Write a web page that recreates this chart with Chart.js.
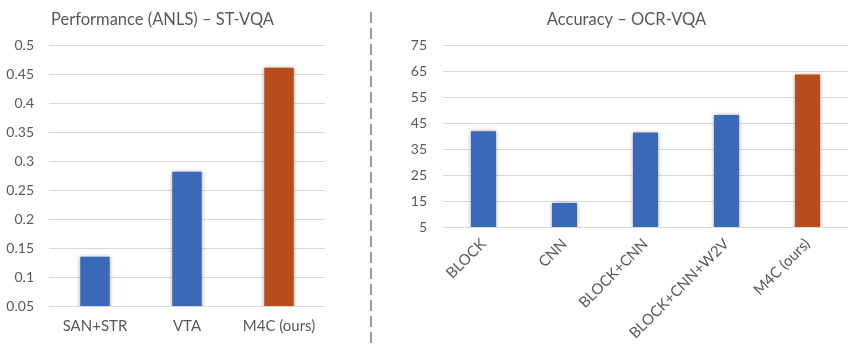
<!DOCTYPE html>
<html>
<head>
<meta charset="utf-8">
<script src="https://cdn.jsdelivr.net/npm/chart.js@4.4.1/dist/chart.umd.min.js"></script>
<style>
    body { margin: 0; background: #ffffff; }
    #wrap { position: relative; width: 860px; height: 344px; overflow: hidden; }
    .panel { position: absolute; top: 0; height: 344px; }
    #left-panel { left: 0; width: 336px; }
    #right-panel { left: 405px; width: 455px; }
    #divider {
        position: absolute; left: 370px; top: 12px; width: 2px; height: 332px;
        background: repeating-linear-gradient(to bottom, #9b9b9b 0 11px, transparent 11px 16px);
    }
</style>
</head>
<body>
<div id="wrap">
    <div class="panel" id="left-panel"><canvas id="stvqaChart"></canvas></div>
    <div id="divider"></div>
    <div class="panel" id="right-panel"><canvas id="ocrvqaChart"></canvas></div>
</div>
<script>
const stvqaLabels = ['SAN+STR', 'VTA', 'M4C (ours)'];
const stvqaValues = [0.135, 0.282, 0.462];
const stvqaTicks = { min: 0.05, max: 0.5, step: 0.05 };

const ocrLabels = ['BLOCK', 'CNN', 'BLOCK+CNN', 'BLOCK+CNN+W2V', 'M4C (ours)'];
const ocrValues = [42.0, 14.3, 41.5, 48.3, 63.9];
const ocrTicks = { min: 5, max: 75, step: 10 };

const BLUE = '#3a69b8';
const ORANGE = '#b94c1b';
const TEXT = '#595959';
const FONT = 'Lato, "Open Sans", sans-serif';

// soft shadow under the bars, like the office chart
const barShadow = {
    id: 'barShadow',
    beforeDatasetsDraw(chart) {
        const ctx = chart.ctx;
        ctx.save();
        ctx.shadowColor = 'rgba(0, 0, 0, 0.35)';
        ctx.shadowBlur = 4;
        ctx.shadowOffsetX = 0;
        ctx.shadowOffsetY = 0;
    },
    afterDatasetsDraw(chart) {
        chart.ctx.restore();
    }
};

function barColors(labels) {
    return labels.map(l => l.startsWith('M4C') ? ORANGE : BLUE);
}

function makeChart(id, labels, values, ticks, opts) {
    const ctx = document.getElementById(id).getContext('2d');
    return new Chart(ctx, {
        type: 'bar',
        data: {
            labels,
            datasets: [{
                data: values,
                backgroundColor: barColors(labels),
                borderWidth: 0,
                categoryPercentage: 1,
                barPercentage: opts.barPct
            }]
        },
        plugins: [barShadow],
        options: {
            responsive: true,
            maintainAspectRatio: false,
            animation: false,
            layout: { padding: { left: 0, right: opts.padRight, top: 0, bottom: 0 } },
            plugins: {
                legend: { display: false },
                tooltip: { enabled: false },
                title: {
                    display: true,
                    text: opts.title,
                    color: TEXT,
                    font: { family: FONT, size: 16.5, weight: 'normal' },
                    padding: { top: 10, bottom: 16 }
                }
            },
            scales: {
                x: {
                    grid: { display: false, drawTicks: false },
                    border: { display: false },
                    ticks: {
                        color: TEXT,
                        font: { family: FONT, size: 15 },
                        padding: opts.xPad,
                        maxRotation: opts.rotation,
                        minRotation: opts.rotation,
                        autoSkip: false
                    },
                    afterFit(scale) { scale.height = opts.xHeight; }
                },
                y: {
                    min: ticks.min,
                    max: ticks.max,
                    grid: { color: '#d9d9d9', lineWidth: 1, drawTicks: false },
                    border: { display: false },
                    ticks: {
                        stepSize: ticks.step,
                        color: TEXT,
                        font: { family: FONT, size: 14 },
                        padding: opts.yPad,
                        callback: v => String(+v.toFixed(2))
                    },
                    afterFit(scale) { scale.width = opts.yWidth; }
                }
            }
        }
    });
}

makeChart('stvqaChart', stvqaLabels, stvqaValues, stvqaTicks, {
    title: 'Performance (ANLS) – ST-VQA',
    barPct: 0.32,
    padRight: 11,
    yWidth: 49,
    yPad: 15,
    xHeight: 38,
    xPad: 11,
    rotation: 0
});

makeChart('ocrvqaChart', ocrLabels, ocrValues, ocrTicks, {
    title: 'Accuracy – OCR-VQA',
    barPct: 0.31,
    padRight: 12,
    yWidth: 38,
    yPad: 16,
    xHeight: 117,
    xPad: 8,
    rotation: 45
});
</script>
</body>
</html>
